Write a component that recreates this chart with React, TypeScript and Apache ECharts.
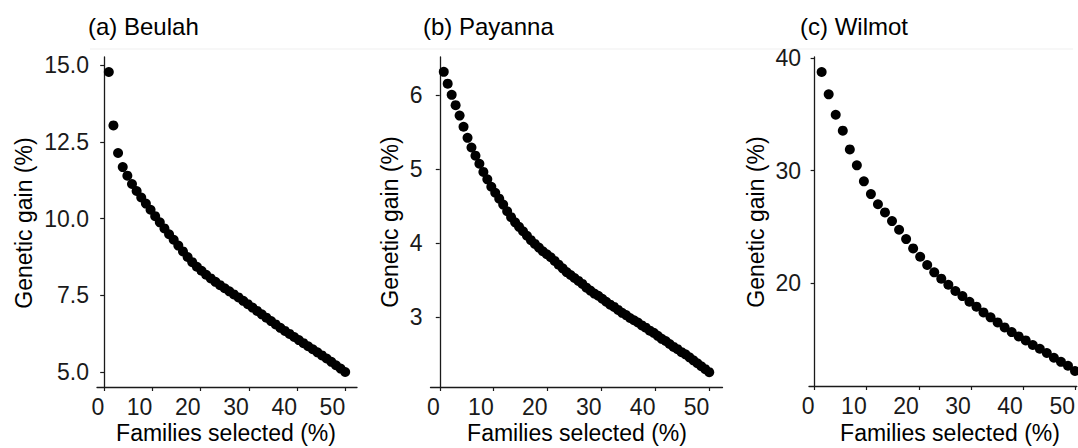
import React, { useEffect, useRef } from "react";
import * as echarts from "echarts";

// ---- Data ----
const beulahX = [0.96, 1.92, 2.88, 3.85, 4.81, 5.77, 6.73, 7.69, 8.65, 9.62, 10.58, 11.54, 12.5, 13.46, 14.42, 15.38, 16.35, 17.31, 18.27, 19.23, 20.19, 21.15, 22.12, 23.08, 24.04, 25.0, 25.96, 26.92, 27.88, 28.85, 29.81, 30.77, 31.73, 32.69, 33.65, 34.62, 35.58, 36.54, 37.5, 38.46, 39.42, 40.38, 41.35, 42.31, 43.27, 44.23, 45.19, 46.15, 47.12, 48.08, 49.04, 50.0];
const beulahY = [14.78, 13.04, 12.14, 11.68, 11.4, 11.13, 10.9, 10.69, 10.49, 10.29, 10.08, 9.88, 9.68, 9.49, 9.31, 9.12, 8.93, 8.75, 8.58, 8.43, 8.3, 8.17, 8.05, 7.94, 7.83, 7.73, 7.63, 7.53, 7.43, 7.32, 7.21, 7.1, 6.99, 6.88, 6.77, 6.66, 6.55, 6.44, 6.34, 6.24, 6.14, 6.04, 5.94, 5.84, 5.74, 5.64, 5.54, 5.44, 5.33, 5.22, 5.11, 5.0];

const payannaX = [0.74, 1.47, 2.21, 2.94, 3.68, 4.41, 5.15, 5.88, 6.62, 7.35, 8.09, 8.82, 9.56, 10.29, 11.03, 11.76, 12.5, 13.23, 13.97, 14.7, 15.44, 16.17, 16.91, 17.64, 18.38, 19.11, 19.85, 20.58, 21.32, 22.05, 22.79, 23.52, 24.26, 24.99, 25.73, 26.46, 27.2, 27.93, 28.67, 29.4, 30.14, 30.87, 31.61, 32.34, 33.08, 33.81, 34.55, 35.28, 36.02, 36.75, 37.49, 38.22, 38.96, 39.69, 40.43, 41.16, 41.9, 42.63, 43.37, 44.1, 44.84, 45.57, 46.31, 47.04, 47.78, 48.51, 49.25, 49.98];
const payannaY = [6.31, 6.15, 6.0, 5.86, 5.72, 5.57, 5.42, 5.29, 5.18, 5.07, 4.96, 4.86, 4.76, 4.68, 4.6, 4.52, 4.43, 4.35, 4.28, 4.22, 4.16, 4.1, 4.04, 3.99, 3.94, 3.89, 3.85, 3.81, 3.76, 3.71, 3.66, 3.61, 3.57, 3.53, 3.49, 3.45, 3.4, 3.36, 3.32, 3.29, 3.25, 3.21, 3.17, 3.14, 3.1, 3.06, 3.03, 2.99, 2.96, 2.93, 2.89, 2.86, 2.82, 2.79, 2.75, 2.71, 2.68, 2.64, 2.6, 2.57, 2.53, 2.5, 2.46, 2.42, 2.38, 2.34, 2.3, 2.26];

const wilmotX = [1.35, 2.7, 4.05, 5.41, 6.76, 8.11, 9.46, 10.81, 12.16, 13.51, 14.86, 16.22, 17.57, 18.92, 20.27, 21.62, 22.97, 24.32, 25.68, 27.03, 28.38, 29.73, 31.08, 32.43, 33.78, 35.14, 36.49, 37.84, 39.19, 40.54, 41.89, 43.24, 44.59, 45.95, 47.3, 48.65, 50.0];
const wilmotY = [38.76, 36.77, 34.96, 33.54, 31.88, 30.46, 29.04, 27.91, 27.0, 26.28, 25.51, 24.74, 23.91, 23.08, 22.34, 21.6, 20.95, 20.39, 19.85, 19.29, 18.84, 18.34, 17.9, 17.39, 16.95, 16.5, 16.06, 15.64, 15.26, 14.9, 14.49, 14.16, 13.78, 13.36, 13.0, 12.65, 12.18];

const xTicks = [0, 10, 20, 30, 40, 50];
const beulahTicks = [5, 7.5, 10, 12.5, 15];
const payannaTicks = [3, 4, 5, 6];
const wilmotTicks = [20, 30, 40];

const panelTitles = ["(a) Beulah", "(b) Payanna", "(c) Wilmot"];
const xTitle = "Families selected (%)";
const yTitle = "Genetic gain (%)";

const FONT = "'Liberation Sans', Arial, sans-serif";

function zip(xs: number[], ys: number[]) {
  return xs.map((x, i) => [x, ys[i]]);
}

function xAxis(gridIndex: number, min: number, max: number) {
  return {
    type: "value",
    gridIndex,
    min,
    max,
    axisLine: { show: true, lineStyle: { color: "#1a1a1a", width: 1.3 } },
    axisTick: { show: true, length: 4, customValues: xTicks, lineStyle: { color: "#1a1a1a", width: 1.2 } },
    axisLabel: {
      customValues: xTicks,
      margin: 8,
      align: "right",
      color: "#1a1a1a",
      fontSize: 23,
      fontFamily: FONT,
    },
    splitLine: { show: false },
  };
}

function yAxis(gridIndex: number, min: number, max: number, ticks: number[], decimals: number) {
  return {
    type: "value",
    gridIndex,
    min,
    max,
    axisLine: { show: true, lineStyle: { color: "#1a1a1a", width: 1.3 } },
    axisTick: { show: true, length: 4, customValues: ticks, lineStyle: { color: "#1a1a1a", width: 1.2 } },
    axisLabel: {
      customValues: ticks,
      margin: 8,
      color: "#1a1a1a",
      fontSize: 23,
      fontFamily: FONT,
      formatter: (v: number) => v.toFixed(decimals),
    },
    splitLine: { show: false },
  };
}

function scatter(idx: number, data: number[][]) {
  return {
    type: "scatter",
    xAxisIndex: idx,
    yAxisIndex: idx,
    data,
    symbol: "circle",
    symbolSize: 10,
    clip: false,
    itemStyle: { color: "#000000", opacity: 1 },
  };
}

function text(str: string, x: number, y: number, size: number, rotate = false, align = "center") {
  return {
    type: "text",
    x,
    y,
    rotation: rotate ? Math.PI / 2 : 0,
    style: {
      text: str,
      fill: "#000000",
      fontSize: size,
      fontFamily: FONT,
      textAlign: align,
      textVerticalAlign: "middle",
    },
  };
}

export default function App() {
  const ref = useRef<HTMLDivElement>(null);
  useEffect(() => {
    if (!ref.current) return;
    const chart = echarts.init(ref.current, null, { renderer: "svg" });
    chart.setOption({
      animation: false,
      backgroundColor: "#ffffff",
      grid: [
        { left: 97, top: 57, width: 260, height: 330 },
        { left: 430.5, top: 57, width: 292, height: 330 },
        { left: 809, top: 57, width: 269, height: 329 },
      ],
      xAxis: [xAxis(0, -1.49, 52.45), xAxis(1, -1.72, 52.44), xAxis(2, -1.08, 50.35)],
      yAxis: [
        yAxis(0, 4.51, 15.27, beulahTicks, 1),
        yAxis(1, 2.06, 6.51, payannaTicks, 0),
        yAxis(2, 10.85, 40.09, wilmotTicks, 0),
      ],
      series: [
        scatter(0, zip(beulahX, beulahY)),
        scatter(1, zip(payannaX, payannaY)),
        scatter(2, zip(wilmotX, wilmotY)),
      ],
      graphic: [
        { type: "line", shape: { x1: 90, y1: 49, x2: 1073, y2: 49 }, style: { stroke: "#efefef", lineWidth: 1 } },
        text(panelTitles[0], 88, 26, 24, false, "left"),
        text(panelTitles[1], 423, 26, 24, false, "left"),
        text(panelTitles[2], 800, 26, 24, false, "left"),
        text(xTitle, 226, 433, 23),
        text(xTitle, 577, 433, 23),
        text(xTitle, 950, 433, 23),
        text(yTitle, 24, 223, 23, true),
        text(yTitle, 390, 222, 23, true),
        text(yTitle, 756, 222, 23, true),
      ],
    });
    return () => chart.dispose();
  }, []);
  return (
    <div
      ref={ref}
      style={{ position: "absolute", left: 0, top: 0, width: 1078, height: 448, background: "#fff" }}
    />
  );
}
